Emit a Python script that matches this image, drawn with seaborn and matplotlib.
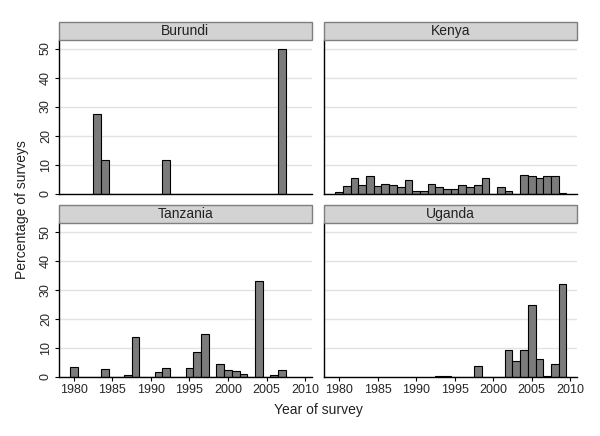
import pandas as pd
import matplotlib
matplotlib.use("Agg")
import matplotlib.pyplot as plt
import seaborn as sns
from matplotlib.patches import Rectangle

# Percentage of surveys per year, by country
countries = ["Burundi", "Kenya", "Tanzania", "Uganda"]

burundi_years = [1983, 1984, 1992, 2007]
burundi_pct = [27.3, 11.4, 11.4, 50.0]

kenya_years = [1980, 1981, 1982, 1983, 1984, 1985, 1986, 1987, 1988, 1989,
               1990, 1991, 1992, 1993, 1994, 1995, 1996, 1997, 1998, 1999,
               2001, 2002, 2004, 2005, 2006, 2007, 2008, 2009]
kenya_pct = [0.5, 2.5, 5.2, 3.1, 5.9, 2.5, 3.4, 3.1, 2.4, 4.5,
             1.0, 0.7, 3.4, 2.1, 1.6, 1.6, 3.1, 2.1, 3.1, 5.2,
             2.4, 1.0, 6.5, 5.9, 5.5, 5.9, 6.2, 0.3]

tanzania_years = [1980, 1984, 1987, 1988, 1991, 1992, 1995, 1996, 1997,
                  1999, 2000, 2001, 2002, 2004, 2006, 2007]
tanzania_pct = [3.2, 2.5, 0.5, 13.7, 1.5, 2.9, 2.9, 8.5, 14.7,
                4.3, 2.2, 1.8, 1.1, 33.0, 0.5, 2.2]

uganda_years = [1993, 1994, 1998, 2002, 2003, 2004, 2005, 2006, 2007, 2008, 2009]
uganda_pct = [0.3, 0.3, 3.6, 9.1, 5.5, 9.1, 24.8, 6.2, 0.4, 4.3, 31.8]

x_ticks = [1980, 1985, 1990, 1995, 2000, 2005, 2010]
y_ticks = [0, 10, 20, 30, 40, 50]

frames = []
for name, yrs, pct in [("Burundi", burundi_years, burundi_pct),
                       ("Kenya", kenya_years, kenya_pct),
                       ("Tanzania", tanzania_years, tanzania_pct),
                       ("Uganda", uganda_years, uganda_pct)]:
    frames.append(pd.DataFrame({"country": name, "year": yrs, "pct": pct}))
df = pd.concat(frames, ignore_index=True)

sns.set_style("white")
plt.rcParams["font.family"] = ["Liberation Sans", "DejaVu Sans"]

g = sns.FacetGrid(df, col="country", col_order=countries, col_wrap=2,
                  sharex=True, sharey=True, height=2, aspect=1.3)
g.map_dataframe(sns.histplot, x="year", weights="pct", discrete=True,
                color="#7b7b7b", edgecolor="black", linewidth=0.8, alpha=1)
g.figure.set_size_inches(6, 4.36)
g.figure.subplots_adjust(left=0.098, right=0.962, top=0.908, bottom=0.136,
                         wspace=0.047, hspace=0.194)

strip_h = 18.5 / 153.5
for i, (ax, name) in enumerate(zip(g.axes.flat, countries)):
    left_col = i % 2 == 0
    bottom_row = i >= 2
    ax.set_title("")
    ax.set_xlim(1978.05, 2010.9)
    ax.set_ylim(0, 52.9)
    ax.set_xticks(x_ticks)
    ax.set_yticks(y_ticks)
    ax.set_xlabel("")
    ax.set_ylabel("")
    ax.yaxis.grid(True, color="#e2e2e2", linewidth=1)
    ax.set_axisbelow(True)
    for side in ["left", "bottom"]:
        ax.spines[side].set_color("black")
        ax.spines[side].set_linewidth(1)
    ax.spines["right"].set_color("#555555")
    ax.spines["right"].set_linewidth(1)
    ax.spines["top"].set_color("black")
    ax.spines["top"].set_linewidth(1.6)
    ax.tick_params(axis="both", direction="out", length=3, width=0.8,
                   color="black", labelsize=9, pad=2)
    ax.tick_params(axis="y", labelrotation=90, left=left_col, labelleft=left_col)
    ax.tick_params(axis="x", bottom=bottom_row, labelbottom=bottom_row)
    for lab in ax.get_yticklabels():
        lab.set_va("center")
    strip = Rectangle((0, 1), 1, strip_h, transform=ax.transAxes,
                      facecolor="#d3d3d3", edgecolor="#7f7f7f", linewidth=1,
                      clip_on=False, zorder=3)
    ax.add_patch(strip)
    ax.text(0.5, 1 + strip_h / 2, name, transform=ax.transAxes,
            ha="center", va="center", fontsize=10, color="#222222", zorder=4)

g.figure.text(0.037, 0.52, "Percentage of surveys", rotation=90,
              ha="center", va="center", fontsize=10, color="#222222")
g.figure.text(0.53, 0.06, "Year of survey", ha="center", va="center",
              fontsize=10, color="#222222")

g.figure.savefig("out.png", dpi=100)
